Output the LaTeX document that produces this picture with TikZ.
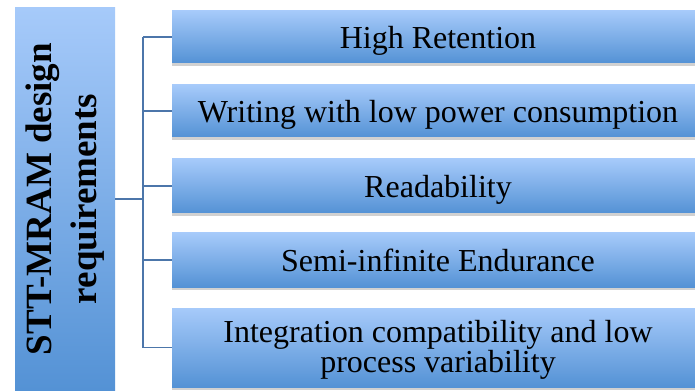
\documentclass[tikz,border=0pt]{standalone}
\usepackage{fontspec}
\setmainfont{Liberation Serif}
\usetikzlibrary{shadows}
\definecolor{boxtop}{RGB}{166,202,250}
\definecolor{boxbot}{RGB}{84,146,213}
\definecolor{linkblue}{RGB}{76,118,170}
\begin{document}
\begin{tikzpicture}[x=1pt, y=1pt,
  req/.style={top color=boxtop, bottom color=boxbot, minimum width=532pt, inner sep=0pt, align=center, font=\fontsize{32}{30}\selectfont},
  one/.style={text height=26pt, text depth=3pt},
  shade/.style={drop shadow={shadow xshift=0pt, shadow yshift=-3pt, opacity=0.3, fill=black!60}},
  link/.style={draw=linkblue, line width=1.8pt}]
\useasboundingbox (0,0) rectangle (695,391);
\node[top color=boxtop, bottom color=boxbot, minimum width=100pt, minimum height=382pt, inner sep=0pt] (STT) at (65,192) {};
\node[rotate=90, align=center, font=\bfseries\fontsize{37}{45}\selectfont] (STTt) at (STT.center) {STT-MRAM design\\requirements};
\node[req, one, shade, minimum height=52pt] (HR) at (438,354) {High Retention};
\node[req, one, shade, minimum height=52pt] (WLP) at (438,280) {Writing with low power consumption};
\node[req, one, shade, minimum height=54pt] (RD) at (438,205) {Readability};
\node[req, one, shade, minimum height=54pt] (SIE) at (438,131) {Semi-infinite Endurance};
\node[req, shade, minimum height=79pt, text depth=3pt] (ICV) at (438,43.5) {Integration compatibility and low\\process variability};
\coordinate (trunk) at (143,192);
\draw[link] (STT.east |- trunk) -- (trunk);
\draw[link] (trunk |- HR.west) -- (trunk |- ICV.west);
\draw[link] (trunk |- HR.west) -- (HR.west);
\draw[link] (trunk |- WLP.west) -- (WLP.west);
\draw[link] (trunk |- RD.west) -- (RD.west);
\draw[link] (trunk |- SIE.west) -- (SIE.west);
\draw[link] (trunk |- ICV.west) -- (ICV.west);
\end{tikzpicture}
\end{document}
